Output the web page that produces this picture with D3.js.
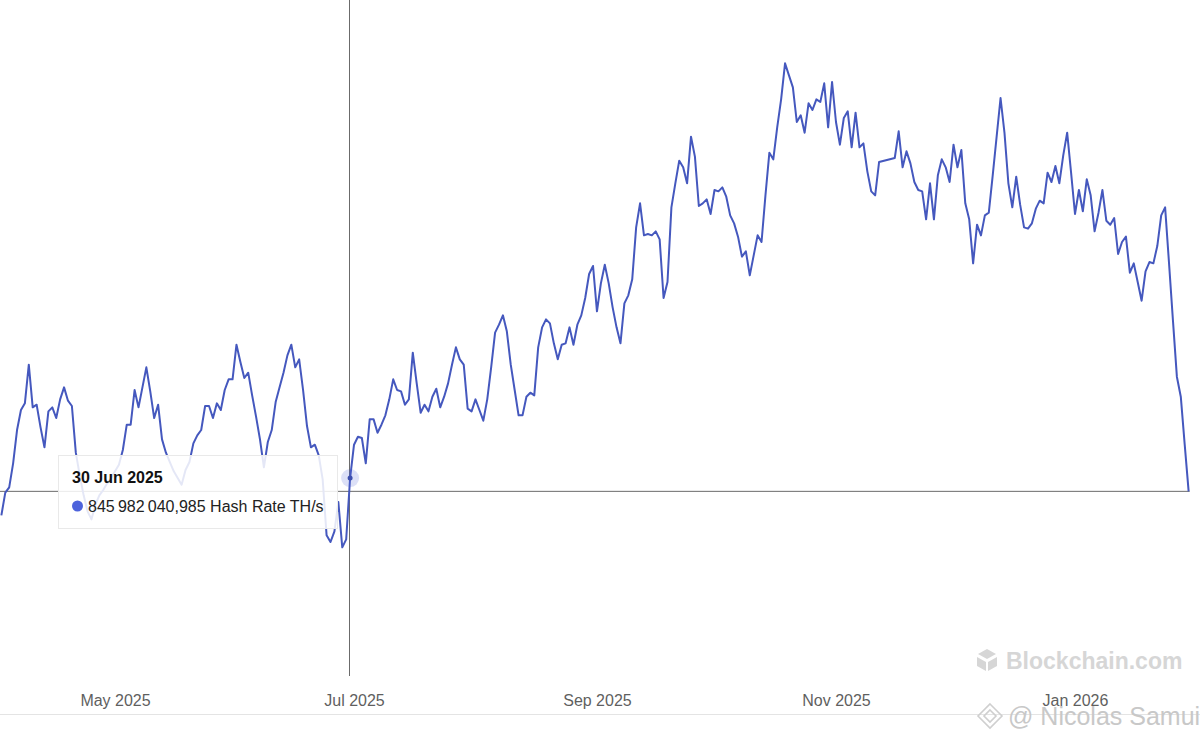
<!DOCTYPE html>
<head>
<meta charset="utf-8">
<title>Hash Rate</title>
<script src="https://cdn.jsdelivr.net/npm/d3@7"></script>
<style>
body { margin: 0; background: #fff; }
svg { display: block; font-family: "Liberation Sans", Arial, Helvetica, sans-serif; }
.axis text { font-size: 16px; fill: #5f5f5f; }
.axis path, .axis line { display: none; }
</style>
</head>
<body>
<script>
// daily hash rate, EH/s, first day 2 Apr 2025 (null = day missing in the source)
var startDay = "2025-04-02";
var hashRate = [
  818, 835, 839, 857, 882, 897, 902, 931, 899, 901,
  884, 869, 896, 899, 891, 905, 914, 904, 900, 865,
  848, 833, 821, 815, 826, 833, 837, 842, 846, 851,
  856, 867, 886, 886, 912, 899, 914, 929, 911, 891,
  901, 875, 865, 858, 851, 846, 841, 852, 858, 872,
  878, 882, 900, 900, 891, 902, 897, 912, 920, 920,
  946, 933, 921, 925, 908, 892, 875, 854, 873, 882,
  903, 914, 925, 938, 946, 929, 935, 912, 885, 869,
  871, 863, 845, 803, 798, 806, 828, 794, 800, 845.982040985,
  871, 877, 876, 857, 890, 890, 880, 886, 893, 905,
  920, 912, 911, 901, 905, 940, 917, 895, 901, 896,
  907, 913, 899, 907, 917, 931, 944, 935, 931, 898,
  896, 905, 897, 889, 905, 929, 955, 961, 968, 956,
  931, 912, 893, 893, 907, 910, 908, 944, 959, 965,
  962, 947, 935, 946, 947, 959, 946, 961, 968, 981,
  999, 1005, 971, 992, 1006, 992, 974, 959, 947, 977,
  983, 995, 1034, 1052, 1028, 1029, 1028, 1031, 1025, 981,
  993, 1049, 1067, 1084, 1079, 1067, 1102, 1087, 1050, 1052,
  1055, 1044, 1062, 1061, 1064, 1057, 1043, 1037, 1027, 1012,
  1016, 998, 1013, 1028, 1023, 1058, 1090, 1085, 1109, 1130,
  1157, 1148, 1139, 1113, 1118, 1105, 1127, 1122, 1130, 1128,
  1142, 1109, 1143, 1113, 1096, 1116, 1121, 1094, 1120, 1094,
  1097, 1076, 1061, 1058, 1083, null, null, null, 1086, 1106,
  1079, 1091, 1082, 1068, 1062, 1061, 1040, 1067, 1040, 1073,
  1085, 1079, 1068, 1096, 1079, 1092, 1052, 1040, 1007, 1036,
  1028, 1043, 1045, 1073, 1102, 1131, 1105, 1067, 1049, 1072,
  1051, 1034, 1033, 1037, 1048, 1054, 1052, 1075, 1068, 1080,
  1067, 1088, 1105, 1075, 1044, 1062, 1046, 1070, 1058, 1031,
  1045, 1062, 1039, 1036, 1041, 1014, 1023, 1027, 1000, 1007,
  993, 979, 1001, 1008, 1007, 1020, 1043, 1049, 1007, 964,
  922, 907, 871, 836
];
var tickDates = ["2025-05-01", "2025-07-01", "2025-09-01", "2025-11-01", "2026-01-01"];
var hoverDay = "2025-06-30";  // tooltip point
var cursorValue = 836;        // where the mouse sits (horizontal crosshair)
var seriesName = "Hash Rate TH/s";

var width = 1200, height = 742;
var lineColor = "#4558be";

var parse = d3.utcParse("%Y-%m-%d");
var start = parse(startDay);
var data = hashRate.map(function(v, i) {
  return { date: d3.utcDay.offset(start, i), value: v };
}).filter(function(d) { return d.value != null; });

var x = d3.scaleUtc()
  .domain([parse("2025-05-01"), parse("2026-01-01")])
  .range([115, 1075]);
var y = d3.scaleLinear()
  .domain([700, 1200])
  .range([672.7, 6]);

var svg = d3.select("body").append("svg")
  .attr("width", width)
  .attr("height", height);

// bottom rule
svg.append("line")
  .attr("x1", 0).attr("x2", width)
  .attr("y1", 714.5).attr("y2", 714.5)
  .style("stroke", "#e4e4e4");

// x axis labels
var axis = svg.append("g")
  .attr("class", "axis")
  .attr("transform", "translate(0,695)")
  .call(d3.axisBottom(x)
    .tickValues(tickDates.map(parse))
    .tickFormat(d3.utcFormat("%b %Y"))
    .tickSize(0)
    .tickPadding(0));
axis.selectAll("text").attr("dy", "0.71em");

// crosshairs
var hover = data.find(function(d) { return +d.date == +parse(hoverDay); });
var hx = x(hover.date), hy = y(hover.value);
svg.append("line")
  .attr("x1", Math.round(hx) - 0.5).attr("x2", Math.round(hx) - 0.5)
  .attr("y1", 0).attr("y2", 676)
  .style("stroke", "#6b6b6b").style("stroke-width", 1);
svg.append("line")
  .attr("x1", 0).attr("x2", x(data[data.length - 1].date) + 1)
  .attr("y1", y(cursorValue)).attr("y2", y(cursorValue))
  .style("stroke", "#6b6b6b").style("stroke-width", 1);

// the series
var line = d3.line()
  .x(function(d) { return x(d.date); })
  .y(function(d) { return y(d.value); });
svg.append("path")
  .datum(data)
  .attr("d", line)
  .style("fill", "none")
  .style("stroke", lineColor)
  .style("stroke-width", 2)
  .style("stroke-linejoin", "round");

// hovered point
svg.append("circle")
  .attr("cx", hx).attr("cy", hy).attr("r", 9)
  .style("fill", "#4f63d6").style("fill-opacity", 0.2);
svg.append("circle")
  .attr("cx", hx).attr("cy", hy).attr("r", 2.5)
  .style("fill", "#3d4fae");

// tooltip
var fr = d3.formatLocale({ decimal: ",", thousands: "\u202f", grouping: [3], currency: ["", ""] });
var fmtTH = fr.format(",.3f");
var tip = svg.append("g").attr("transform", "translate(58,455)");
tip.append("rect")
  .attr("x", 0.5).attr("y", 0.5)
  .attr("width", 279).attr("height", 73)
  .style("fill", "#fff").style("fill-opacity", 0.86)
  .style("stroke", "#e9e9e9");
tip.append("text")
  .attr("x", 14).attr("y", 28)
  .style("font-size", "16px").style("font-weight", "bold").style("fill", "#111")
  .text(d3.utcFormat("%-d %b %Y")(hover.date));
tip.append("circle")
  .attr("cx", 19.5).attr("cy", 51).attr("r", 5.5)
  .style("fill", "#4d63dc");
tip.append("text")
  .attr("x", 30).attr("y", 57)
  .style("font-size", "16px").style("fill", "#222")
  .text(fmtTH(hover.value * 1e6) + " " + seriesName);

// watermarks
var wm = svg.append("g").attr("transform", "translate(987,660)");
wm.append("path").attr("d", "M0,-11 L9,-6 L0,-1 L-9,-6 Z").style("fill", "#d6d6d6");
wm.append("path").attr("d", "M-10,-3 L-1,2 L-1,11 L-10,6 Z").style("fill", "#d6d6d6");
wm.append("path").attr("d", "M10,-3 L1,2 L1,11 L10,6 Z").style("fill", "#d6d6d6");
svg.append("text")
  .attr("x", 1006).attr("y", 669)
  .style("font-size", "23px").style("font-weight", "bold").style("fill", "#d6d6d6")
  .text("Blockchain.com");

var bn = svg.append("g").attr("transform", "translate(990,716)");
bn.append("path").attr("d", "M0,-12 L12,0 L0,12 L-12,0 Z M0,-6 L6,0 L0,6 L-6,0 Z")
  .style("fill", "none").style("stroke", "#cfcfcf").style("stroke-width", 1.6);
svg.append("text")
  .attr("x", 1008).attr("y", 725)
  .style("font-size", "25px").style("fill", "#c8c8c8")
  .text("@ Nicolas Samui");

// cut-off text below the frame
svg.append("text")
  .attr("x", 477).attr("y", 755)
  .style("font-size", "18px").style("fill", "#222")
  .text("P");
</script>
</body>
